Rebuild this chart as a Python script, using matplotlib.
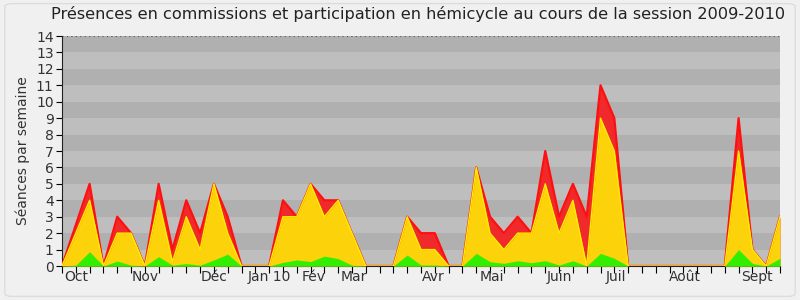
import numpy as np
import matplotlib.pyplot as plt
from matplotlib.patches import FancyBboxPatch

# weekly values, session 2009-2010
semaines = np.arange(53)
total = [0, 2.5, 5, 0, 3, 2, 0, 5, 1, 4, 2, 5, 3, 0, 0, 0, 4, 3, 5, 4,
         4, 2, 0, 0, 0, 3, 2, 2, 0, 0, 6, 3, 2, 3, 2, 7, 3, 5, 3, 11,
         9, 0, 0, 0, 0, 0, 0, 0, 0, 9, 1, 0, 3]
hemicycle = [0, 2, 4, 0, 2, 2, 0, 4, 0.25, 3, 1, 5, 2, 0, 0, 0, 3, 3, 5, 3,
             4, 2, 0, 0, 0, 3, 1, 1, 0, 0, 6, 2, 1, 2, 2, 5, 2, 4, 0, 9,
             7, 0, 0, 0, 0, 0, 0, 0, 0, 7, 1, 0, 3]
participation = [0, 0.05, 0.87, 0, 0.3, 0.05, 0, 0.57, 0.05, 0.15, 0.05, 0.37, 0.72, 0, 0, 0,
                 0.22, 0.37, 0.27, 0.6, 0.45, 0.05, 0, 0, 0, 0.67, 0.06, 0.06, 0, 0,
                 0.77, 0.26, 0.16, 0.32, 0.2, 0.32, 0.06, 0.32, 0, 0.77, 0.47,
                 0, 0, 0, 0, 0, 0, 0, 0, 1.0, 0.16, 0, 0.47]

mois = ['Oct', 'Nov', 'Déc', 'Jan 10', 'Fév', 'Mar', 'Avr', 'Mai', 'Juin', 'Juil', 'Août', 'Sept']
mois_pos = [1, 6, 11, 15, 18.2, 21.1, 26.9, 31.1, 36, 40.1, 45.1, 50.3]

fig = plt.figure(figsize=(8, 3), dpi=100, facecolor='#f0f0f0')
fig.patches.append(FancyBboxPatch((0.006, 0.012), 0.988, 0.976, boxstyle='round,pad=0,rounding_size=0.01',
                                  transform=fig.transFigure, facecolor='#f0f0f0',
                                  edgecolor='#dcdcdc', linewidth=1, zorder=-1))
ax = fig.add_axes([0.0775, 0.1133, 0.8975, 0.7667])

# striped background
for k in range(14):
    ax.axhspan(k, k + 1, color='#bebebe' if k % 2 == 0 else '#b0b0b0', lw=0, zorder=0)
ax.axhline(14, color='#555555', lw=0.8, ls=(0, (1, 3)), zorder=1)

ax.fill_between(semaines, 0, total, color='#f02a2a', lw=0, zorder=2)
ax.plot(semaines, total, color='#ff1010', lw=1.6, zorder=3)
ax.fill_between(semaines, 0, hemicycle, color='#fcd20a', lw=0, zorder=4)
ax.plot(semaines, hemicycle, color='#ffee00', lw=1.0, zorder=5)
ax.fill_between(semaines, 0, participation, color='#33ee00', lw=0, zorder=6)

ax.set_xlim(0, 52)
ax.set_ylim(0, 14)
ax.set_yticks(range(15))
ax.set_xticks(semaines)
ax.set_xticklabels([])
ax.xaxis.remove_overlapping_locs = False
ax.set_xticks(mois_pos, minor=True)
ax.set_xticklabels(mois, minor=True)
ax.tick_params(axis='x', which='major', length=5, width=0.8, direction='out')
ax.tick_params(axis='x', which='minor', length=0, pad=3, labelsize=10, labelcolor='#333333')
ax.tick_params(axis='y', length=4, width=0.8, labelsize=10, labelcolor='#333333', pad=2)

for s in ['top', 'right']:
    ax.spines[s].set_visible(False)
ax.spines['left'].set_color('#222222')
ax.spines['bottom'].set_color('#222222')

ax.set_ylabel('Séances par semaine', fontsize=10, color='#333333', labelpad=4)
fig.text(0.522, 0.955, 'Présences en commissions et participation en hémicycle au cours de la session 2009-2010',
         ha='center', va='center', fontsize=11.6, color='#222222')

fig.savefig('out.png', dpi=100, facecolor=fig.get_facecolor())
